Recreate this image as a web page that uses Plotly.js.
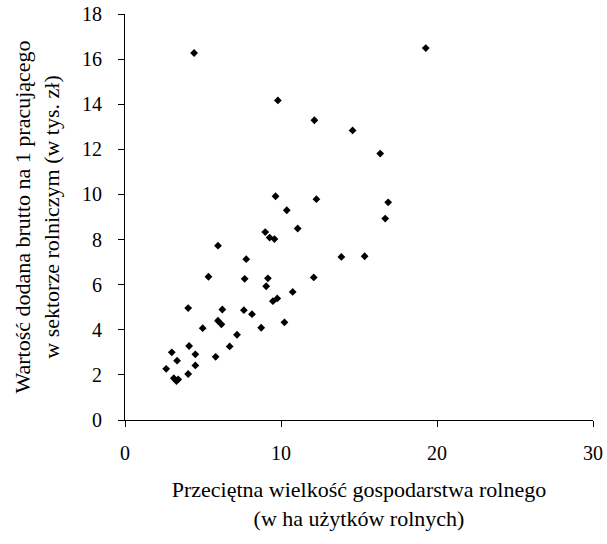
<!DOCTYPE html>
<html>
<head>
<meta charset="utf-8">
<script src="https://cdn.plot.ly/plotly-3.0.1.min.js"></script>
<style>html,body{margin:0;padding:0;background:#fff;}#chart{width:607px;height:544px;}</style>
</head>
<body>
<div id="chart"></div>
<script>
// Average farm size (ha of agricultural land)
var farmSize = [4.43, 9.80, 12.14, 14.59, 9.65, 12.27, 10.37, 19.28, 16.36, 16.87,
  16.68, 13.87, 15.36, 8.99, 9.27, 9.58, 11.07, 5.96, 7.77, 5.35,
  7.67, 9.16, 9.05, 12.10, 10.75, 9.76, 9.48, 4.05, 6.24, 7.62,
  8.14, 5.96, 6.18, 4.98, 8.73, 10.22, 7.18, 4.11, 6.71, 3.00,
  4.51, 3.34, 5.81, 4.51, 2.64, 4.05, 3.13, 3.30, 3.41];
// Gross value added per worker in agriculture (thousand PLN)
var valueAdded = [16.27, 14.17, 13.29, 12.84, 9.92, 9.79, 9.30, 16.49, 11.81, 9.65,
  8.93, 7.23, 7.26, 8.33, 8.09, 8.02, 8.49, 7.73, 7.13, 6.35,
  6.26, 6.28, 5.93, 6.32, 5.68, 5.39, 5.27, 4.96, 4.90, 4.87,
  4.69, 4.40, 4.24, 4.07, 4.09, 4.33, 3.78, 3.28, 3.26, 3.00,
  2.91, 2.63, 2.80, 2.42, 2.27, 2.04, 1.85, 1.73, 1.80];
var xTicks = [0, 10, 20, 30];
var yTicks = [0, 2, 4, 6, 8, 10, 12, 14, 16, 18];
var xTitle = 'Przeciętna wielkość gospodarstwa rolnego<br>(w ha użytków rolnych)';
var yTitle = 'Wartość dodana brutto na 1 pracującego<br>w sektorze rolniczym (w tys. zł)';

var serif = 'Liberation Serif, Times New Roman, serif';
var trace = {
  x: farmSize, y: valueAdded, type: 'scatter', mode: 'markers',
  marker: {symbol: 'diamond', size: 6, color: '#000'},
  hoverinfo: 'x+y'
};
var layout = {
  width: 607, height: 544,
  margin: {l: 125, r: 14, t: 14, b: 124},
  paper_bgcolor: '#fff', plot_bgcolor: '#fff',
  showlegend: false,
  font: {family: serif, size: 20, color: '#000'},
  xaxis: {
    range: [0, 30], tickvals: xTicks, ticktext: xTicks.map(String),
    showgrid: false, zeroline: false, showline: true, linecolor: '#000', linewidth: 1,
    ticks: 'outside', ticklen: 6, tickcolor: '#000', ticklabelstandoff: 9,
    tickfont: {family: serif, size: 20, color: '#000'},
    title: {text: xTitle, font: {family: serif, size: 22, color: '#000'}, standoff: 18}
  },
  yaxis: {
    range: [0, 18], tickvals: yTicks, ticktext: yTicks.map(String),
    showgrid: false, zeroline: false, showline: true, linecolor: '#000', linewidth: 1,
    ticks: 'outside', ticklen: 6, tickcolor: '#000', ticklabelstandoff: 12,
    tickfont: {family: serif, size: 20, color: '#000'},
    title: {text: yTitle, font: {family: serif, size: 22, color: '#000'}, standoff: 16}
  }
};
Plotly.newPlot('chart', [trace], layout, {staticPlot: true, displayModeBar: false});
</script>
</body>
</html>
